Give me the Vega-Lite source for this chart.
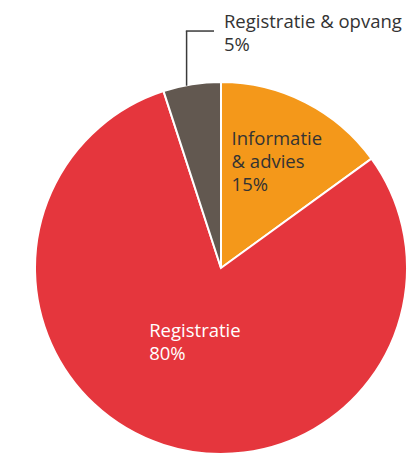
{
  "$schema": "https://vega.github.io/schema/vega-lite/v6.json",
  "width": 372,
  "height": 372,
  "autosize": "none",
  "padding": {"left": 35, "top": 82, "right": 1, "bottom": 0},
  "background": "white",
  "config": {"view": {"stroke": null}, "font": "Open Sans"},
  "data": {"values": [
    {"category": "Informatie & advies", "label": "Informatie\n& advies", "value": 15},
    {"category": "Registratie", "label": "Registratie", "value": 80},
    {"category": "Registratie & opvang", "label": "Registratie & opvang", "value": 5}
  ]},
  "transform": [
    {"stack": "value", "groupby": [], "sort": [{"field": "category", "order": "ascending"}], "as": ["v0", "v1"]},
    {"calculate": "(datum.v0 + datum.v1) / 2", "as": "mid"},
    {"calculate": "datum.label + '\\n' + datum.value + '%'", "as": "txt"}
  ],
  "layer": [
    {
      "mark": {"type": "arc", "radius": 186, "stroke": "white", "strokeWidth": 2},
      "encoding": {
        "theta": {"field": "v0", "type": "quantitative", "scale": {"domain": [0, 100]}},
        "theta2": {"field": "v1"},
        "color": {
          "field": "category", "type": "nominal",
          "scale": {"domain": ["Informatie & advies", "Registratie", "Registratie & opvang"], "range": ["#F4981A", "#E5363D", "#625850"]},
          "legend": null
        }
      }
    },
    {
      "transform": [{"filter": "datum.category === 'Informatie & advies'"}],
      "mark": {"type": "text", "radius": 118, "align": "left", "baseline": "middle", "dx": -43, "dy": -24, "fontSize": 18.5, "lineHeight": 23, "lineBreak": "\n", "color": "#333333"},
      "encoding": {
        "theta": {"field": "mid", "type": "quantitative", "stack": false, "scale": {"domain": [0, 100]}},
        "text": {"field": "txt"}
      }
    },
    {
      "transform": [{"filter": "datum.category === 'Registratie'"}],
      "mark": {"type": "text", "radius": 77, "align": "left", "baseline": "middle", "dx": -48, "dy": -10.5, "fontSize": 18.5, "lineHeight": 23, "lineBreak": "\n", "color": "#FFFFFF"},
      "encoding": {
        "theta": {"field": "mid", "type": "quantitative", "stack": false, "scale": {"domain": [0, 100]}},
        "text": {"field": "txt"}
      }
    },
    {
      "transform": [{"filter": "datum.category === 'Registratie & opvang'"}],
      "mark": {"type": "text", "radius": 237, "align": "left", "baseline": "middle", "dx": 40, "dy": -11.5, "fontSize": 18.5, "lineHeight": 23, "lineBreak": "\n", "color": "#333333"},
      "encoding": {
        "theta": {"field": "mid", "type": "quantitative", "stack": false, "scale": {"domain": [0, 100]}},
        "text": {"field": "txt"}
      }
    },
    {
      "data": {"values": [{}]},
      "mark": {"type": "rule", "color": "#3a3a3a", "strokeWidth": 1.5},
      "encoding": {
        "x": {"datum": -0.185, "type": "quantitative", "scale": {"domain": [-1, 1]}, "axis": null},
        "y": {"datum": 0.98, "type": "quantitative", "scale": {"domain": [-1, 1]}, "axis": null},
        "y2": {"datum": 1.274}
      }
    },
    {
      "data": {"values": [{}]},
      "mark": {"type": "rule", "color": "#3a3a3a", "strokeWidth": 1.5},
      "encoding": {
        "x": {"datum": -0.189, "type": "quantitative", "scale": {"domain": [-1, 1]}, "axis": null},
        "x2": {"datum": -0.0376},
        "y": {"datum": 1.274, "type": "quantitative", "scale": {"domain": [-1, 1]}, "axis": null}
      }
    }
  ]
}
